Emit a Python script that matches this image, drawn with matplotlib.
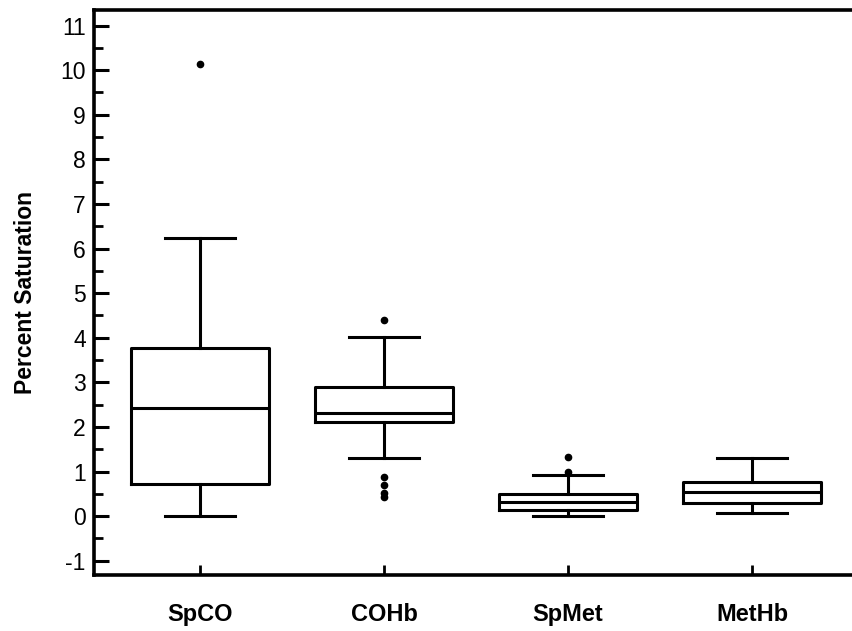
import matplotlib.pyplot as plt
from matplotlib.ticker import MultipleLocator

# Box summary values per measurement (percent saturation)
labels = ["SpCO", "COHb", "SpMet", "MetHb"]
whis_lo = [0.0, 1.30, 0.0, 0.07]
q1 = [0.72, 2.11, 0.13, 0.29]
median = [2.42, 2.31, 0.31, 0.54]
q3 = [3.77, 2.89, 0.49, 0.76]
whis_hi = [6.23, 4.01, 0.92, 1.30]
outliers = [
    [10.15],
    [4.39, 0.87, 0.70, 0.52, 0.42],
    [1.32, 0.99],
    [],
]

plt.rcParams["font.family"] = ["Liberation Sans", "DejaVu Sans"]
plt.rcParams["axes.unicode_minus"] = False

stats = []
for i, name in enumerate(labels):
    stats.append({
        "label": name,
        "whislo": whis_lo[i],
        "q1": q1[i],
        "med": median[i],
        "q3": q3[i],
        "whishi": whis_hi[i],
        "fliers": outliers[i],
    })

fig = plt.figure(figsize=(8.53, 6.31), dpi=100)
ax = fig.add_axes([94 / 853, 56 / 631, 759 / 853, 565 / 631])

lw = 2.2
ax.bxp(
    stats,
    positions=[1, 2, 3, 4],
    widths=0.75,
    capwidths=0.385,
    boxprops=dict(color="black", linewidth=lw),
    medianprops=dict(color="black", linewidth=lw),
    whiskerprops=dict(color="black", linewidth=lw),
    capprops=dict(color="black", linewidth=lw),
    flierprops=dict(marker="o", markerfacecolor="black", markeredgecolor="black",
                    markersize=4.5, linestyle="none"),
)

ax.set_xlim(0.424, 4.549)
ax.set_ylim(-1.32, 11.35)

ax.yaxis.set_major_locator(MultipleLocator(1))
ax.yaxis.set_minor_locator(MultipleLocator(0.5))
ax.set_xticks([1, 2, 3, 4])
ax.set_xticklabels(labels, fontsize=17, fontweight="bold")

ax.tick_params(axis="y", which="major", direction="in", length=11, width=2.2,
               labelsize=16.5, pad=6)
ax.tick_params(axis="y", which="minor", direction="in", length=6.5, width=2.0)
ax.tick_params(axis="x", which="major", direction="in", length=7, width=2.0, pad=20)
ax.tick_params(top=False, right=False)

for side in ["left", "bottom", "top"]:
    ax.spines[side].set_linewidth(2.6)
ax.spines["right"].set_visible(False)

ax.set_ylabel("Percent Saturation", fontsize=16.5, fontweight="bold", labelpad=17)

fig.savefig("out.png", dpi=100)
